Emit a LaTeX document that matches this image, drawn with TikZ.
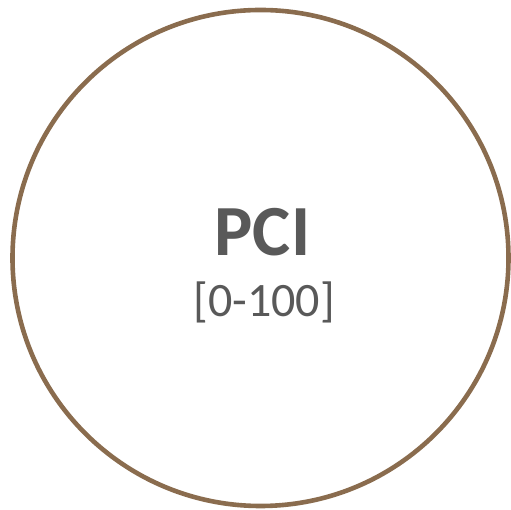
\documentclass[tikz,border=0pt]{standalone}
\usepackage{fontspec}
\setmainfont{Carlito}
\usepackage{xcolor}
\usepackage{tikz}
\usetikzlibrary{positioning}
\definecolor{ColRing}{RGB}{138,108,78}
\definecolor{ColText}{RGB}{89,89,89}

\begin{document}
\begin{tikzpicture}[
  x=1pt, y=1pt,
  line cap=round,
  line join=round,
  every node/.style={inner sep=0pt, outer sep=0pt}
]
  \useasboundingbox (0,0) rectangle (511,510);

  % Outer ring
  \node[circle, draw=ColRing, line width=4.6pt, minimum size=496pt] (ring) at (260.5,252) {};

  % Label and range
  \node[ColText, anchor=base, font=\bfseries\fontsize{72}{76}\selectfont] (pci) at (262.5,254) {PCI};
  \node[ColText, anchor=base, font=\fontsize{48}{52}\selectfont] (range) at (264,193) {[0-100]};
\end{tikzpicture}
\end{document}
